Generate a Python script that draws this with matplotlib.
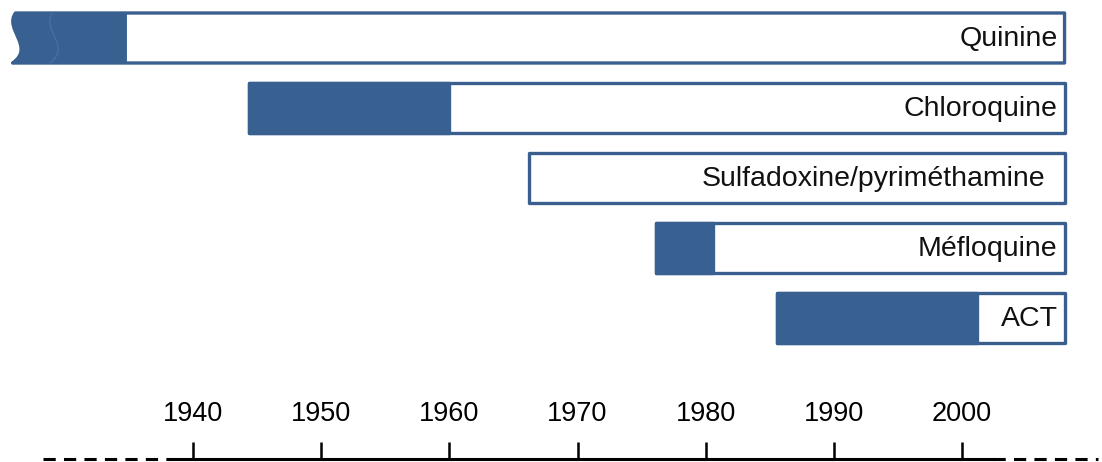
import matplotlib
matplotlib.use("Agg")
import matplotlib.pyplot as plt
from matplotlib.path import Path
from matplotlib.patches import PathPatch, Rectangle

plt.rcParams['font.family'] = ['Liberation Sans', 'DejaVu Sans']

# ---- data ----
drugs = ["Quinine", "Chloroquine", "Sulfadoxine/pyriméthamine", "Méfloquine", "ACT"]
start_year = [1926.0, 1944.4, 1966.2, 1976.1, 1985.6]
resist_year = [1934.8, 1960.0, 1966.2, 1980.6, 2001.2]   # dark segment ends here
end_year = [2008.0, 2008.0, 2008.0, 2008.0, 2008.0]
tick_years = [1940, 1950, 1960, 1970, 1980, 1990, 2000]
axis_solid = (1938.2, 2002.4)
axis_dashed = [(1928.3, 1938.2), (2002.4, 2010.6)]

FILL = '#386192'
EDGE = '#3A5F8F'

W, H = 1102, 462
fig = plt.figure(figsize=(W / 100, H / 100), dpi=100)
ax = fig.add_axes([0, 0, 1, 1])

PX_PER_YEAR = 12.817
PX_PER_ROW = 70.0
x0_year = 1940 - 193 / PX_PER_YEAR
ax.set_xlim(x0_year, x0_year + W / PX_PER_YEAR)
y_top = -38 / PX_PER_ROW
ax.set_ylim(y_top + H / PX_PER_ROW, y_top)

bar_h = 50 / PX_PER_ROW
lw_edge = 2.4


def px_x(p):
    return p / PX_PER_YEAR


def px_y(p):
    return p / PX_PER_ROW


def wavy_path(i, x_left, x_right, shift=0.0, only_edge=False):
    top = i - bar_h / 2
    bot = i + bar_h / 2
    xl = x_left + px_x(shift)
    pts_edge = [
        (xl + px_x(2), top),
        (xl - px_x(10), top + px_y(16)),
        (xl + px_x(22), top + px_y(34)),
        (xl - px_x(1), bot),
    ]
    if only_edge:
        return Path(pts_edge, [Path.MOVETO, Path.CURVE4, Path.CURVE4, Path.CURVE4])
    verts = [(x_right, top)] + [pts_edge[0]] + pts_edge[1:] + [(x_right, bot), (x_right, top)]
    codes = [Path.MOVETO, Path.LINETO, Path.CURVE4, Path.CURVE4, Path.CURVE4,
             Path.LINETO, Path.CLOSEPOLY]
    return Path(verts, codes)


for i, (name, s, r, e) in enumerate(zip(drugs, start_year, resist_year, end_year)):
    if i == 0:
        # broken-start bar (scale break)
        outer = PathPatch(wavy_path(i, s, e), facecolor='white', edgecolor=EDGE,
                          lw=lw_edge, joinstyle='round', zorder=2)
        ax.add_patch(outer)
        dark = PathPatch(wavy_path(i, s, r), facecolor=FILL, edgecolor=FILL,
                         lw=0.8, zorder=3)
        ax.add_patch(dark)
        inner = PathPatch(wavy_path(i, s, r, shift=37, only_edge=True), facecolor='none',
                          edgecolor='#4A70A0', lw=0.9, zorder=4)
        ax.add_patch(inner)
    else:
        ax.add_patch(Rectangle((s, i - bar_h / 2), e - s, bar_h, facecolor='white',
                               edgecolor=EDGE, lw=lw_edge, joinstyle='round', zorder=2))
        if r > s:
            ax.add_patch(Rectangle((s, i - bar_h / 2), r - s, bar_h, facecolor=FILL,
                                   edgecolor=FILL, lw=lw_edge, joinstyle='round', zorder=3))
    pad = 19 if name.startswith('Sulfa') else 7
    ax.text(e - px_x(pad), i + px_y(1), name, ha='right', va='center',
            fontsize=20.5, color='#111111', zorder=5)

# ---- timeline axis ----
axis_y = (458.5 - 38) / PX_PER_ROW
for sp in ['left', 'right', 'bottom']:
    ax.spines[sp].set_visible(False)
ax.spines['top'].set_position(('data', axis_y))
ax.spines['top'].set_bounds(*axis_solid)
ax.spines['top'].set_linewidth(2.2)
ax.spines['top'].set_color('black')
ax.xaxis.tick_top()
ax.set_xticks(tick_years)
ax.set_xticklabels([str(t) for t in tick_years])
ax.tick_params(axis='x', direction='out', length=12.5, width=1.8, pad=10,
               labelsize=19.5, colors='black')
ax.set_yticks([])

for xa, xb in axis_dashed:
    ax.plot([xa, xb], [axis_y, axis_y], color='black', lw=2.2,
            linestyle=(0, (4, 2.7)), solid_capstyle='butt', clip_on=False)

fig.savefig('out.png', dpi=100, facecolor='white')
